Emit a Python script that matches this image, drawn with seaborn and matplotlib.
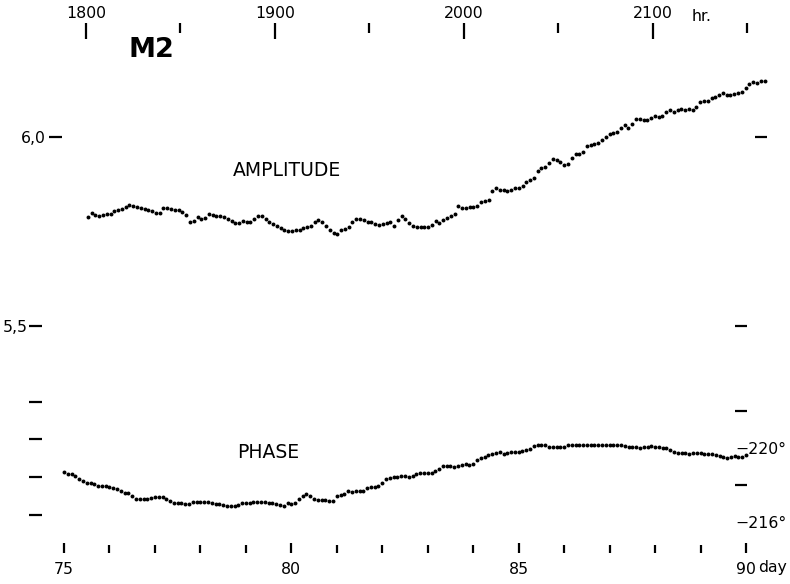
import numpy as np
import matplotlib
matplotlib.use("Agg")
import matplotlib.pyplot as plt
import seaborn as sns

# ---------------- data ----------------
amp_hours = np.arange(1801, 2160, 2)          # sampling every 2 hours
amplitude = [
    5.788, 5.799, 5.794, 5.791, 5.794, 5.796, 5.796, 5.804, 5.807, 5.810,
    5.815, 5.819, 5.817, 5.815, 5.813, 5.810, 5.806, 5.803, 5.800, 5.799,
    5.812, 5.811, 5.810, 5.808, 5.807, 5.802, 5.794, 5.776, 5.779, 5.788,
    5.783, 5.786, 5.795, 5.794, 5.791, 5.790, 5.788, 5.783, 5.779, 5.772,
    5.772, 5.778, 5.775, 5.775, 5.783, 5.791, 5.790, 5.782, 5.775, 5.770,
    5.765, 5.758, 5.754, 5.750, 5.751, 5.753, 5.754, 5.759, 5.762, 5.765,
    5.774, 5.780, 5.774, 5.765, 5.753, 5.745, 5.743, 5.754, 5.757, 5.761,
    5.775, 5.784, 5.782, 5.780, 5.776, 5.774, 5.771, 5.767, 5.770, 5.772,
    5.775, 5.765, 5.780, 5.791, 5.782, 5.772, 5.765, 5.762, 5.761, 5.761,
    5.762, 5.767, 5.778, 5.772, 5.780, 5.787, 5.791, 5.796, 5.817, 5.812,
    5.812, 5.816, 5.816, 5.817, 5.827, 5.831, 5.833, 5.856, 5.866, 5.861,
    5.860, 5.858, 5.860, 5.866, 5.866, 5.870, 5.881, 5.886, 5.891, 5.910,
    5.918, 5.920, 5.931, 5.942, 5.938, 5.933, 5.926, 5.929, 5.944, 5.954,
    5.954, 5.960, 5.976, 5.980, 5.981, 5.985, 5.992, 6.001, 6.009, 6.011,
    6.012, 6.025, 6.032, 6.024, 6.034, 6.048, 6.048, 6.046, 6.044, 6.050,
    6.056, 6.053, 6.056, 6.066, 6.071, 6.067, 6.071, 6.074, 6.072, 6.073,
    6.071, 6.079, 6.093, 6.096, 6.096, 6.102, 6.107, 6.111, 6.116, 6.112,
    6.111, 6.115, 6.116, 6.119, 6.130, 6.140, 6.146, 6.144, 6.149, 6.147,
]

phase_days = 75 + np.arange(181) / 12.0      # sampling every 2 hours
phase = [
    -218.68, -218.62, -218.57, -218.46, -218.32, -218.19, -218.12, -218.11, -218.03, -217.97,
    -217.95, -217.92, -217.89, -217.84, -217.78, -217.70, -217.59, -217.55, -217.41, -217.27,
    -217.24, -217.23, -217.27, -217.30, -217.34, -217.35, -217.37, -217.24, -217.14, -217.05,
    -217.03, -217.01, -216.97, -216.97, -217.10, -217.08, -217.06, -217.10, -217.08, -217.04,
    -217.00, -216.95, -216.93, -216.89, -216.86, -216.89, -216.92, -217.03, -217.05, -217.05,
    -217.08, -217.10, -217.08, -217.06, -217.03, -217.01, -216.97, -216.92, -216.86, -217.03,
    -217.00, -217.05, -217.27, -217.43, -217.50, -217.43, -217.24, -217.19, -217.19, -217.17,
    -217.15, -217.11, -217.41, -217.44, -217.51, -217.68, -217.64, -217.66, -217.65, -217.70,
    -217.85, -217.88, -217.89, -217.97, -218.09, -218.31, -218.38, -218.42, -218.44, -218.46,
    -218.49, -218.42, -218.51, -218.59, -218.63, -218.63, -218.65, -218.66, -218.73, -218.86,
    -219.03, -219.04, -219.03, -219.00, -219.03, -219.08, -219.12, -219.08, -219.16, -219.35,
    -219.46, -219.54, -219.62, -219.68, -219.71, -219.80, -219.70, -219.73, -219.80, -219.76,
    -219.81, -219.86, -219.88, -219.95, -220.11, -220.16, -220.16, -220.16, -220.08, -220.05,
    -220.07, -220.07, -220.08, -220.14, -220.16, -220.14, -220.17, -220.15, -220.16, -220.18,
    -220.16, -220.15, -220.17, -220.16, -220.14, -220.16, -220.15, -220.14, -220.11, -220.07,
    -220.07, -220.05, -220.01, -220.03, -220.07, -220.10, -220.08, -220.04, -220.01, -219.98,
    -219.89, -219.78, -219.73, -219.71, -219.72, -219.70, -219.71, -219.72, -219.71, -219.70,
    -219.68, -219.65, -219.61, -219.57, -219.51, -219.46, -219.49, -219.57, -219.51, -219.54,
    -219.62,
]

hour_major = [1800, 1900, 2000, 2100]
hour_minor = [1850, 1950, 2050, 2150]
day_major = [75, 80, 85, 90]
day_major_labels = ["75", "80", "85", "90"]
day_minor = [76, 77, 78, 79, 81, 82, 83, 84, 86, 87, 88, 89]
amp_tick_upper = [6.0]
amp_tick_upper_labels = ["6,0"]
amp_ticks_lower = [5.5, 5.3, 5.2, 5.1, 5.0]
amp_ticks_lower_labels = ["5,5", "", "", "", ""]
amp_right_upper = [6.0]
amp_right_lower = [5.5]
phase_ticks = [-222, -218]
phase_label_ticks = [-220, -216]
phase_labels = ["\u2212220\u00b0", "\u2212216\u00b0"]

# ---------------- figure ----------------
sns.set_style("white")
plt.rcParams["font.family"] = ["DejaVu Sans"]
for key in ("text.color", "axes.labelcolor", "xtick.color", "ytick.color",
            "xtick.labelcolor", "ytick.labelcolor"):
    plt.rcParams[key] = "black"

W, H = 790, 584
PT = 0.72  # points per pixel at dpi 100
fig = plt.figure(figsize=(W / 100, H / 100), dpi=100)
fig.patch.set_facecolor("white")

ax_p = fig.add_axes([0, 0, 1, 1])
ax_a = fig.add_axes([0, 0, 1, 1])
ax_a.patch.set_visible(False)

sns.scatterplot(x=phase_days, y=phase, ax=ax_p, s=8, color="black",
                linewidth=0, legend=False)
sns.scatterplot(x=amp_hours, y=amplitude, ax=ax_a, s=8, color="black",
                linewidth=0, legend=False)

ax_a.set_xlim(1754.5, 2172.49)
ax_a.set_ylim(4.8175, 6.3624)
ax_p.set_xlim(73.5925, 90.967)
ax_p.set_ylim(-212.649, -244.216)

for ax in (ax_a, ax_p):
    for s in ax.spines.values():
        s.set_visible(False)
    ax.set_xticks([])
    ax.set_yticks([])
    ax.set_xlabel("")
    ax.set_ylabel("")

FS = 11.3
TW = 1.6


def clean(sec):
    for s in sec.spines.values():
        s.set_visible(False)


# top hour axis
top = ax_a.secondary_xaxis((H - 23) / H)
clean(top)
top.set_xticks(hour_major, labels=[str(h) for h in hour_major])
top.set_xticks(hour_minor, minor=True)
top.tick_params(which="major", direction="in", length=16 * PT, width=TW,
                pad=2 * PT, labelsize=FS, colors="black")
top.tick_params(which="minor", direction="in", length=10 * PT, width=TW,
                colors="black")

# bottom day axis
bot = ax_p.secondary_xaxis((H - 553) / H)
clean(bot)
bot.set_xticks(day_major, labels=day_major_labels)
bot.set_xticks(day_minor, minor=True)
bot.tick_params(which="major", direction="in", length=10 * PT, width=TW,
                pad=9 * PT, labelsize=FS, colors="black")
bot.tick_params(which="minor", direction="in", length=8 * PT, width=TW,
                colors="black")

# left amplitude ticks
l1 = ax_a.secondary_yaxis(62 / W)
clean(l1)
l1.set_yticks(amp_tick_upper, labels=amp_tick_upper_labels)
l1.tick_params(direction="out", length=13 * PT, width=TW, pad=3 * PT,
               labelsize=FS, colors="black")

l2 = ax_a.secondary_yaxis(42 / W)
clean(l2)
l2.set_yticks(amp_ticks_lower, labels=amp_ticks_lower_labels)
l2.tick_params(direction="out", length=13 * PT, width=TW, pad=1 * PT,
               labelsize=FS, colors="black")

# right ticks
r1 = ax_a.secondary_yaxis(755 / W)
clean(r1)
r1.set_yticks(amp_right_upper, labels=[""])
r1.tick_params(direction="out", length=12 * PT, width=TW, colors="black")

r2 = ax_a.secondary_yaxis(735 / W)
clean(r2)
r2.set_yticks(amp_right_lower, labels=[""])
r2.tick_params(direction="out", length=12 * PT, width=TW, colors="black")

r3 = ax_p.secondary_yaxis(735 / W)
clean(r3)
r3.set_yticks(phase_ticks, labels=["", ""])
r3.set_yticks(phase_label_ticks, labels=phase_labels, minor=True)
r3.tick_params(which="major", direction="out", length=12 * PT, width=TW,
               colors="black")
r3.tick_params(which="minor", direction="out", length=0, pad=0,
               labelsize=FS, colors="black")

# texts
fig.text(692 / W, 1 - 21 / H, "hr.", ha="left", va="baseline", fontsize=FS)
fig.text(758 / W, 1 - 572 / H, "day", ha="left", va="baseline", fontsize=FS)
fig.text(151 / W, 1 - 50 / H, "M2", ha="center", va="center",
         fontsize=19.5, fontweight="bold")
fig.text(287 / W, 1 - 171 / H, "AMPLITUDE", ha="center", va="center",
         fontsize=13.5)
fig.text(268 / W, 1 - 452 / H, "PHASE", ha="center", va="center",
         fontsize=13.5)

fig.savefig("out.png", dpi=100, facecolor="white")
